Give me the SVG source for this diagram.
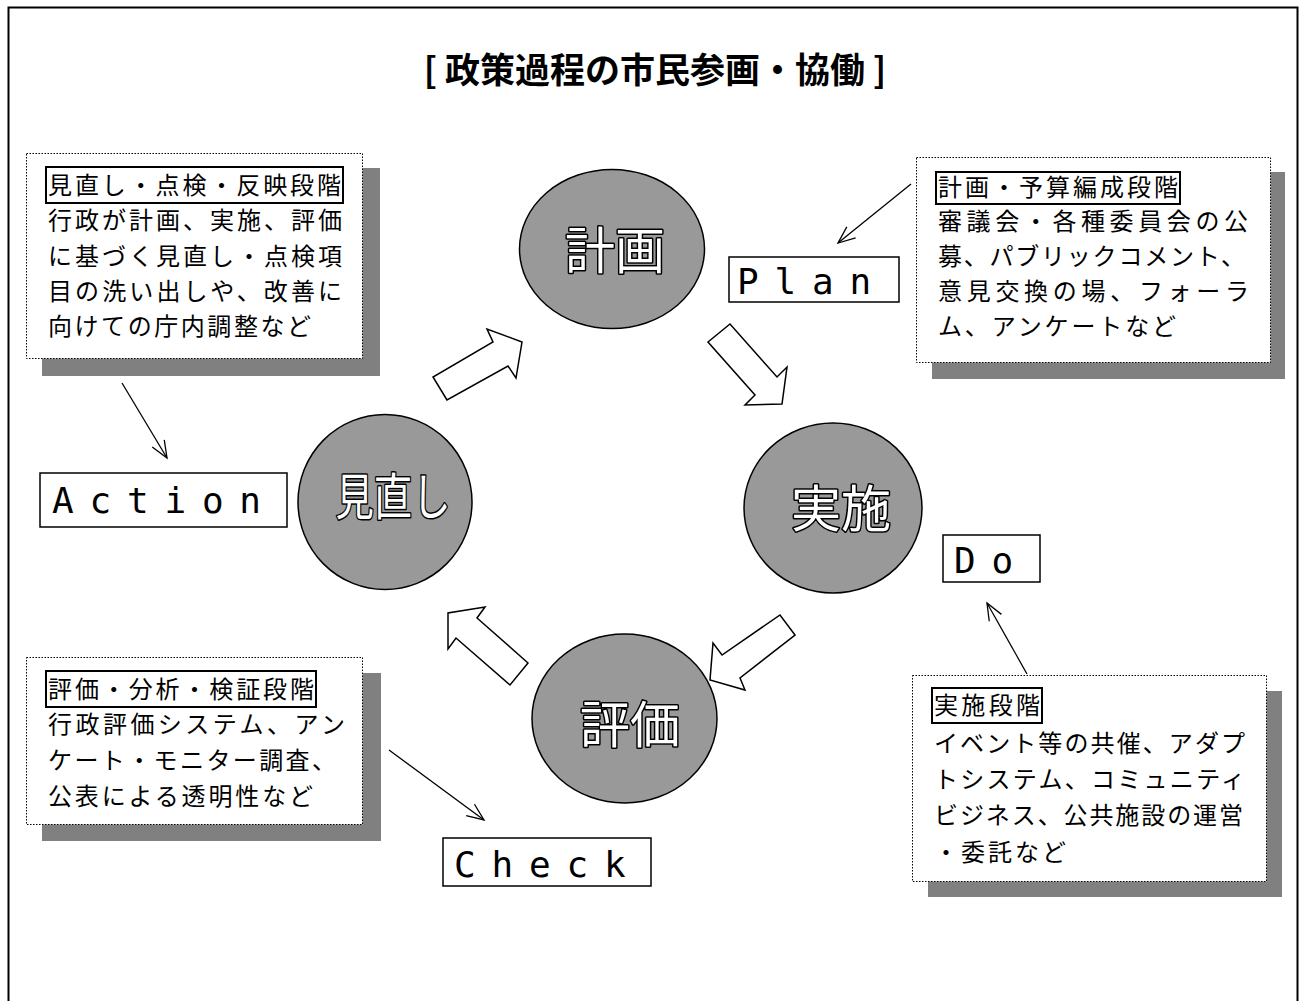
<svg xmlns="http://www.w3.org/2000/svg" width="1304" height="1001" viewBox="0 0 1304 1001">
<defs>
<style>
.frame{fill:#fff;stroke:#000;stroke-width:2}
.title{font-family:"Noto Sans CJK JP","Noto Sans CJK SC",sans-serif;font-size:35px;font-weight:bold;fill:#000}
.circ{fill:#999;stroke:#000;stroke-width:1.5}
.ctext{font-family:"Noto Sans CJK JP",sans-serif;font-size:50px;fill:#fff;stroke:#000;stroke-width:3;paint-order:stroke;stroke-linejoin:round;text-anchor:middle}
.blk{fill:#fff;stroke:#000;stroke-width:1.5;stroke-linejoin:miter}
.shadow{fill:#808080}
.note{fill:#fff;stroke:#000;stroke-width:1;stroke-dasharray:1.5 1.5}
.hbox{fill:#fff;stroke:#000;stroke-width:2}
.body{font-family:"Noto Sans CJK JP",sans-serif;font-size:24px;fill:#000}
.lbox{fill:#fff;stroke:#000;stroke-width:1.5}
.lbl{font-family:"DejaVu Sans Mono","Liberation Mono",monospace;font-size:36px;letter-spacing:15.8px;fill:#000}
.call{stroke:#000;stroke-width:1.3;fill:none}
</style>
<marker id="open" viewBox="-18 -9 20 18" markerWidth="20" markerHeight="18" refX="0" refY="0" orient="auto" markerUnits="userSpaceOnUse">
<path d="M-17,-7 L0,0 L-17,7" fill="none" stroke="#000" stroke-width="1.3"/>
</marker>
</defs>
<rect width="1304" height="1001" fill="#fff"/>
<rect class="frame" x="8.5" y="7.5" width="1289" height="1010"/>
<text class="title" x="655" y="83" text-anchor="middle">[ 政策過程の市民参画・協働 ]</text>

<g id="connectors">
<polygon class="blk" points="447,400 433,377 493,342 487,329 522,342 516,378 508,366"/>
<polygon class="blk" points="708,342 730,324 777,377 787,367 782,404 745,405 755,395"/>
<polygon class="blk" points="795,635 780,615 722,655 713,643 710,680 745,690 740,678"/>
<polygon class="blk" points="528,663 510,685 456,638 448,649 448,613 485,607 477,618"/>
<line class="call" x1="122" y1="383" x2="167" y2="458" marker-end="url(#open)"/>
<line class="call" x1="911" y1="184" x2="838" y2="243" marker-end="url(#open)"/>
<line class="call" x1="389" y1="750" x2="484" y2="820" marker-end="url(#open)"/>
<line class="call" x1="1027" y1="674" x2="987" y2="603" marker-end="url(#open)"/>
</g>

<g id="plan-circle">
<ellipse class="circ" cx="612" cy="249" rx="92.5" ry="79.5"/>
<text class="ctext" x="615" y="269">計画</text>
</g>
<g id="do-circle">
<ellipse class="circ" cx="833" cy="508" rx="89" ry="85"/>
<text class="ctext" x="841" y="527">実施</text>
</g>
<g id="check-circle">
<ellipse class="circ" cx="624.5" cy="718.5" rx="92.5" ry="84.5"/>
<text class="ctext" x="630" y="743">評価</text>
</g>
<g id="action-circle">
<ellipse class="circ" cx="385" cy="502" rx="87" ry="87.5"/>
<text class="ctext" x="393" y="515" font-size="44" textLength="115" lengthAdjust="spacingAndGlyphs">見直し</text>
</g>

<g id="plan-label">
<rect class="lbox" x="729" y="257" width="170" height="45"/>
<text class="lbl" x="737" y="294" letter-spacing="17">Plan</text>
</g>
<g id="do-label">
<rect class="lbox" x="943" y="535" width="97" height="47"/>
<text class="lbl" x="954" y="573">Do</text>
</g>
<g id="check-label">
<rect class="lbox" x="443" y="838" width="208" height="48"/>
<text class="lbl" x="454" y="877" letter-spacing="18">Check</text>
</g>
<g id="action-label">
<rect class="lbox" x="40" y="473" width="247" height="54"/>
<text class="lbl" x="52" y="513">Action</text>
</g>

<g id="note-action">
<rect class="shadow" x="42" y="168" width="338" height="208"/>
<rect class="note" x="26.5" y="153.5" width="336" height="205"/>
<rect class="hbox" x="46" y="167" width="297" height="36"/>
<text class="body" x="48" y="194" textLength="293">見直し・点検・反映段階</text>
<text class="body" x="48" y="229" textLength="294">行政が計画、実施、評価</text>
<text class="body" x="48" y="265" textLength="294">に基づく見直し・点検項</text>
<text class="body" x="48" y="300" textLength="294">目の洗い出しや、改善に</text>
<text class="body" x="48" y="335" textLength="263">向けての庁内調整など</text>
</g>

<g id="note-plan">
<rect class="shadow" x="932" y="172" width="353" height="207"/>
<rect class="note" x="916.5" y="157.5" width="354" height="205"/>
<rect class="hbox" x="936" y="172" width="244" height="32"/>
<text class="body" x="938" y="196" textLength="240">計画・予算編成段階</text>
<text class="body" x="938" y="230" textLength="310">審議会・各種委員会の公</text>
<text class="body" x="938" y="265" textLength="307">募、パブリックコメント、</text>
<text class="body" x="938" y="300" textLength="311">意見交換の場、フォーラ</text>
<text class="body" x="938" y="335" textLength="238">ム、アンケートなど</text>
</g>

<g id="note-check">
<rect class="shadow" x="42" y="673" width="339" height="168"/>
<rect class="note" x="26.5" y="657.5" width="336" height="167"/>
<rect class="hbox" x="46" y="671" width="270" height="36"/>
<text class="body" x="48" y="698" textLength="266">評価・分析・検証段階</text>
<text class="body" x="48" y="733" textLength="297">行政評価システム、アン</text>
<text class="body" x="48" y="769" textLength="288">ケート・モニター調査、</text>
<text class="body" x="48" y="805" textLength="265">公表による透明性など</text>
</g>

<g id="note-do">
<rect class="shadow" x="928" y="691" width="354" height="206"/>
<rect class="note" x="912.5" y="675.5" width="354" height="206"/>
<rect class="hbox" x="932" y="688" width="110" height="35"/>
<text class="body" x="934" y="714" textLength="106">実施段階</text>
<text class="body" x="934" y="752" textLength="311">イベント等の共催、アダプ</text>
<text class="body" x="934" y="788" textLength="311">トシステム、コミュニティ</text>
<text class="body" x="934" y="824" textLength="309">ビジネス、公共施設の運営</text>
<text class="body" x="934" y="861" textLength="132">・委託など</text>
</g>
</svg>
